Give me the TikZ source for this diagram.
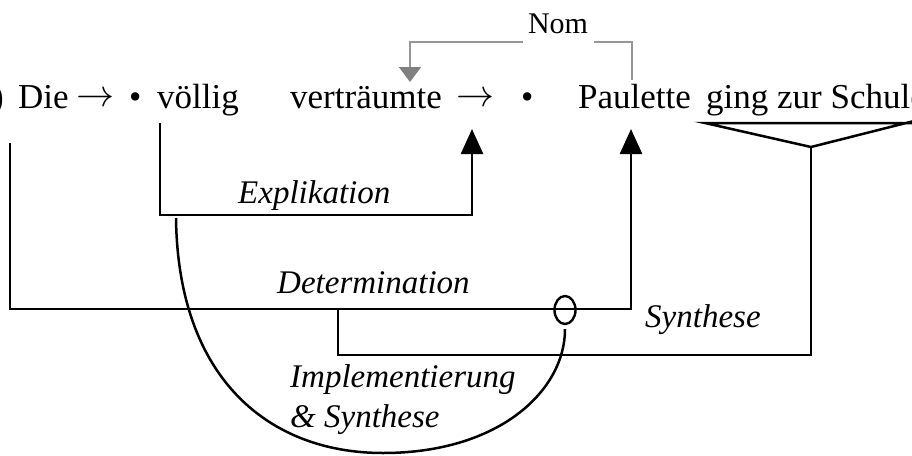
\documentclass[tikz,border=0pt]{standalone}
\usepackage{graphicx}
\usepackage{fontspec}
\setmainfont{Liberation Serif}
\newfontfamily\labfont{Liberation Serif Italic}
\usepackage{tikz}
\usetikzlibrary{arrows.meta,shapes.geometric}
\definecolor{NomLine}{RGB}{150,150,150}
\definecolor{NomTip}{RGB}{128,128,128}
\newcommand{\wordarrow}{\raisebox{1.5pt}{\scalebox{3.8}{\fontsize{10}{12}\selectfont$\rightarrow$}}}

\begin{document}
\begin{tikzpicture}[
  x=1pt, y=-1pt,
  line cap=butt,
  line join=miter,
  word/.style={font=\fontsize{35}{40}\selectfont, inner sep=0pt, anchor=base west},
  lab/.style={font=\labfont\fontsize{33}{40}\selectfont, inner sep=0pt, anchor=base west},
  tie/.style={line width=2.5pt, black},
  tiptie/.style={tie, -{Triangle[length=25pt,width=22pt]}},
  nomtie/.style={line width=2pt, NomLine, -{Triangle[length=15pt,width=22pt,color=NomTip]}},
  ring/.style={draw, ellipse, line width=2.4pt, minimum width=21pt, minimum height=28pt, inner sep=0pt}
]
  \useasboundingbox (0,0) rectangle (912,455);
  \clip (0,0) rectangle (912,455);

  % Sentence
  \node[word, anchor=base east] (w0)    at (4,108)   {0)};
  \node[word] (die)         at (18,108)  {Die};
  \node[word] (ar1)         at (76,108)  {\wordarrow};
  \node[word] (dot1)        at (129,108) {•};
  \node[word] (voellig)     at (157,108) {völlig};
  \node[word] (vertraeumte) at (290,108) {verträumte};
  \node[word] (ar2)         at (456,108) {\wordarrow};
  \node[word] (dot2)        at (521,108) {•};
  \node[word] (paulette)    at (578,108) {Paulette};
  \node[word] (schule)      at (706,108) {ging zur Schule};

  % Connector ends
  \coordinate (expS) at (160,123);
  \coordinate (expT) at (472,129);
  \coordinate (detS) at (10,143);
  \coordinate (detT) at (631,129);
  \coordinate (ulL)  at (705,123);
  \coordinate (ulR)  at (916,123);
  \coordinate (brA)  at (811,147);
  \coordinate (brR)  at (914,121);
  \coordinate (jn)   at (338,309);
  \coordinate (curS) at (176,218);
  \coordinate (curB) at (383,453);
  \coordinate (nomS) at (632,80);
  \coordinate (nomT) at (410,82);

  % Explikation and Determination
  \draw[tiptie] (expS) -- ++(0,92) -| (expT);
  \draw[tiptie] (detS) -- ++(0,166) -| (detT);

  % Predicate bracket and Synthese
  \draw[tie] (ulR) -- (ulL) -- (brA) -- (brR);
  \draw[tie] (brA) -- ++(0,208) -| (jn);

  % Implementierung & Synthese
  \node[ring] (ring) at (565,310) {};
  \draw[tie, shorten >=4pt] (curS) .. controls (178,380) and (270,453) .. (curB)
    .. controls (500,453) and (565,390) .. (ring.south);

  % Nom
  \draw[nomtie] (nomS) -- ++(0,-38) -| (nomT);
  \node[font=\fontsize{30}{36}\selectfont, fill=white, inner xsep=5.5pt, inner ysep=12pt, anchor=base] (nom) at (558,33) {Nom};

  % Labels
  \node[lab] (lexp)  at (238,203) {Explikation};
  \node[lab] (ldet)  at (277,293) {Determination};
  \node[lab] (lsyn)  at (645,327) {Synthese};
  \node[lab] (limp)  at (290,387) {Implementierung};
  \node[lab] (limp2) at (290,427) {\& Synthese};
\end{tikzpicture}
\end{document}
